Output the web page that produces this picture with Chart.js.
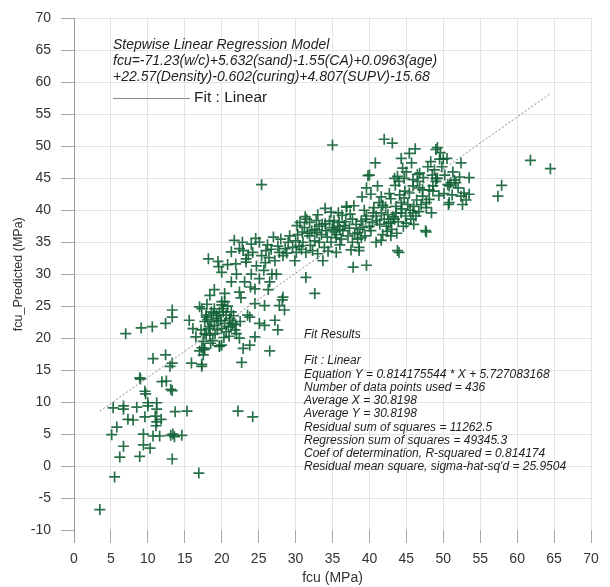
<!DOCTYPE html>
<html>
<head>
<meta charset="utf-8">
<title>fcu predicted vs measured</title>
<script src="https://cdn.jsdelivr.net/npm/chart.js@4.4.1/dist/chart.umd.min.js"></script>
<style>
    html, body { margin: 0; padding: 0; background: #fff; }
    #wrap { width: 610px; height: 587px; }
</style>
</head>
<body>
<div id="wrap"><canvas id="fcuChart" width="610" height="587"></canvas></div>
<script>
// Measured fcu (x) against predicted fcu (y), both in MPa, grouped by strength range
const lowStrength = [
    [3.5,-6.8],[5.5,-1.7],[16.9,-1.1],[6.2,1.4],[8.9,1.5],[13.3,1.1],[6.7,3.1],[9.4,3.3],[10.3,2.8],
    [5.1,4.9],[5.8,6.1],[9.4,5.0],[10.7,4.7],[11.6,4.7],[13.1,4.8],[13.4,5.0],[13.6,4.6],[14.6,4.8],
    [7.3,7.3],[8.0,7.2],[9.6,7.7],[11.0,7.8],[11.2,6.9],[11.1,6.3],[11.8,7.3],[5.3,9.1],[6.7,9.4],
    [6.7,8.9],[8.5,9.2],[10.0,9.9],[10.0,9.4],[11.2,9.9],[11.2,8.9],[13.7,8.5],[15.3,8.6],[9.6,11.7],
    [9.7,11.3],[13.1,12.0],[13.3,11.8],[8.9,13.8],[9.0,13.6],[11.9,13.2],[12.5,13.3],[13.0,15.6],
    [13.3,16.1],[10.7,16.8],[12.4,17.4],[15.9,16.1],[7.0,20.7],[9.1,21.6],[10.6,21.8],[12.4,22.3],
    [13.3,23.3],[13.3,24.4],[15.6,22.8],[16.1,21.5]
];
const lowerMid = [
    [17.0,18.0],[17.3,18.5],[17.6,18.2],[17.3,15.6],[17.3,15.9],[19.7,18.7],[20.0,18.9],[19.7,18.8],
    [17.7,18.4],[17.5,19.5],[17.7,20.7],[18.4,20.5],[17.9,20.5],[19.1,20.7],[20.0,21.5],[18.2,21.5],
    [18.4,21.8],[20.9,21.8],[21.3,21.8],[21.8,21.3],[22.0,20.7],[17.7,22.6],[18.6,22.6],[19.5,22.8],
    [19.3,23.1],[20.4,22.3],[21.1,22.8],[21.5,22.3],[21.1,23.1],[17.9,23.3],[17.9,23.6],[19.3,23.6],
    [20.6,23.6],[18.6,24.1],[19.7,24.1],[20.2,24.1],[21.3,24.1],[17.3,24.6],[20.2,24.6],[17.0,24.9],
    [20.0,25.2],[20.0,25.7],[20.4,25.7],[22.4,20.0],[22.7,16.2],[22.9,18.4],[23.8,18.9],[16.5,20.2],
    [18.8,19.6],[21.0,20.3],[19.0,22.0],[22.5,22.6],[20.8,25.0],[18.0,25.3],[18.1,22.9],[18.9,23.9],
    [19.4,21.3],[19.9,22.7],[20.6,21.0],[21.6,23.5],[18.5,19.2],[17.2,21.3],[19.0,24.6],[21.9,22.1],
    [17.5,17.4],[20.3,20.1]
];
const upperMid = [
    [18.2,32.4],[19.5,32.0],[19.6,31.2],[20.0,30.3],[21.3,33.5],[22.4,34.0],[24.0,34.7],[21.9,31.6],
    [23.3,32.4],[23.3,31.9],[22.0,30.0],[23.1,28.8],[21.3,28.8],[20.4,27.0],[18.4,26.7],[22.4,27.2],
    [22.6,26.3],[24.5,27.7],[25.1,29.3],[26.5,28.8],[26.8,30.0],[27.4,30.0],[26.0,33.7],[26.7,33.9],
    [27.6,34.4],[27.8,33.4],[29.0,35.0],[29.2,36.0],[28.3,32.9],[27.2,32.1],[25.4,32.9],[24.7,31.3],
    [25.1,35.0],[24.2,33.4],[30.1,33.4],[29.9,32.1],[30.5,34.4],[25.4,44.0],[21.7,35.3],[22.8,35.0],
    [23.6,33.0],[26.2,34.6],[28.6,34.0],[28.0,35.5],[29.6,34.2],[27.0,35.8],[25.7,30.6],[24.0,30.0],
    [20.8,31.5],[22.9,33.7],[24.6,35.6],[25.9,31.8],[28.8,33.3],[26.4,32.6],[23.9,28.0],[19.0,27.6]
];
const underPredicted = [
    [28.3,26.4],[28.5,24.4],[25.8,25.1],[24.5,25.4],[23.8,23.3],[23.5,23.6],[25.1,22.3],[25.8,22.0],
    [27.2,22.8],[27.6,21.3],[24.5,20.2],[26.5,18.0],[27.8,25.1],[31.4,29.5],[32.6,27.0],[22.2,8.6],
    [24.2,7.7],[28.2,26.0],[26.3,27.6]
];
const band30to40 = [
    [30.6,38.1],[31.2,37.3],[31.9,38.1],[32.6,37.0],[33.2,37.5],[34.1,36.8],[35.0,37.3],[35.9,38.1],
    [37.1,36.0],[31.9,36.0],[32.6,35.2],[33.2,35.0],[33.9,34.2],[34.8,35.0],[35.5,35.7],[30.8,33.9],
    [31.4,33.4],[32.3,33.7],[33.7,32.1],[34.8,39.7],[36.9,40.6],[36.9,40.5],[35.0,37.0],[35.7,37.5],
    [35.5,36.2],[36.4,36.8],[37.7,38.6],[38.2,37.8],[38.9,38.3],[39.1,37.3],[38.4,36.5],[38.9,35.7],
    [38.4,35.5],[38.6,34.2],[38.6,33.7],[37.7,35.0],[35.5,33.4],[36.2,35.5],[37.8,31.1],[39.6,31.4],
    [39.6,39.1],[30.3,36.2],[31.0,35.0],[31.5,38.6],[32.0,34.5],[32.8,38.4],[33.5,36.2],[34.0,37.9],
    [34.4,33.6],[35.2,38.4],[36.0,34.6],[36.6,37.6],[37.3,37.2],[37.5,33.8],[33.0,39.3],[31.3,39.0],
    [36.3,39.2],[30.2,37.6],[30.9,36.6],[31.6,36.4],[32.2,36.8],[32.9,36.5],[33.6,37.8],[34.3,35.8],
    [34.6,38.3],[35.3,36.6],[36.0,37.0],[36.8,38.2],[37.4,39.4],[38.0,36.3],[38.7,37.0],[39.4,36.0],
    [30.0,35.2],[33.0,33.2],[34.0,40.3],[35.8,39.6],[37.9,40.7]
];
const band40to48 = [
    [39.8,45.4],[39.6,43.5],[39.0,42.1],[40.2,42.5],[41.6,42.1],[42.9,41.8],[40.2,36.8],[40.9,39.1],
    [41.6,39.6],[42.0,38.6],[42.5,39.3],[42.9,38.1],[43.6,39.6],[43.4,38.6],[41.4,37.8],[42.3,37.5],
    [40.4,38.1],[41.6,35.3],[40.9,35.0],[42.9,36.0],[43.8,33.7],[44.0,33.4],[41.8,36.2],[43.8,45.3],
    [44.7,45.0],[46.5,45.6],[46.5,44.5],[45.9,43.8],[46.8,43.5],[45.4,42.7],[44.7,41.9],[44.3,41.2],
    [45.2,40.9],[43.6,40.6],[45.9,39.6],[45.6,38.6],[46.3,39.1],[47.7,41.2],[47.7,40.4],[47.7,36.6],
    [47.2,42.2],[44.9,39.1],[44.3,39.6],[45.9,44.8],[42.0,51.1],[43.1,50.5],[35.0,50.2],[40.8,47.4],
    [44.3,48.1],[44.5,46.6],[45.7,47.4],[40.0,45.5],[41.1,43.8],[43.4,45.0],[46.8,45.8],[47.2,43.2],
    [47.0,40.9],[47.6,36.8],[44.6,37.5],[46.0,37.8],[43.0,37.0],[40.6,40.4],[39.3,40.0],[42.2,40.5],
    [44.8,43.0],[46.4,41.6],[40.5,39.6],[41.0,38.4],[41.8,40.8],[42.6,38.0],[43.2,39.0],[43.9,38.2],
    [44.4,40.2],[45.0,38.0],[45.5,40.0],[46.0,40.6],[46.7,39.8],[41.3,41.2],[42.7,42.6],[43.5,43.9],
    [44.0,44.5],[45.0,46.0],[45.4,48.9],[46.2,49.6],[47.3,45.1],[47.9,46.8],[42.4,36.7],[43.7,36.4],
    [40.0,37.5],[39.5,38.6],[44.1,42.4]
];
const highStrength = [
    [48.1,43.2],[48.6,43.8],[49.0,45.0],[50.8,43.8],[51.7,44.3],[50.7,40.9],[49.2,49.8],[49.0,49.5],
    [49.5,48.0],[50.0,48.0],[50.5,48.1],[52.4,47.4],[53.5,45.1],[52.2,45.2],[51.5,44.7],[51.0,44.3],
    [50.6,44.0],[49.2,45.0],[49.0,44.5],[52.8,42.7],[52.4,42.2],[53.5,42.5],[53.1,41.6],[52.6,40.9],
    [50.8,41.2],[48.1,41.7],[48.6,43.0],[48.8,46.3],[49.8,46.8],[51.2,42.4],[48.4,39.6],[48.3,47.6],
    [49.6,49.0],[48.5,45.5],[49.4,42.3],[50.2,45.5],[51.3,46.0],[52.0,43.5],[50.1,42.6],
    [57.9,43.9],[57.4,42.2],[61.8,47.8],[64.5,46.5]
];

const xTickValues = [0, 5, 10, 15, 20, 25, 30, 35, 40, 45, 50, 55, 60, 65, 70];
const yTickValues = [-10, -5, 0, 5, 10, 15, 20, 25, 30, 35, 40, 45, 50, 55, 60, 65, 70];

// linear fit reported in the results box
const fitSlope = 0.814175544;
const fitIntercept = 5.727083168;

const modelLines = [
    'Stepwise Linear Regression Model',
    'fcu=-71.23(w/c)+5.632(sand)-1.55(CA)+0.0963(age)',
    '+22.57(Density)-0.602(curing)+4.807(SUPV)-15.68'
];
const fitResultLines = [
    'Fit Results',
    '',
    'Fit : Linear',
    'Equation Y = 0.814175544 * X + 5.727083168',
    'Number of data points used = 436',
    'Average X = 30.8198',
    'Average Y = 30.8198',
    'Residual sum of squares = 11262.5',
    'Regression sum of squares = 49345.3',
    'Coef of determination, R-squared = 0.814174',
    "Residual mean square, sigma-hat-sq'd = 25.9504"
];

const FONT = '"Liberation Sans", Arial, sans-serif';
const points = [].concat(lowStrength, lowerMid, upperMid, underPredicted, band30to40, band40to48, highStrength)
    .map(p => ({ x: p[0], y: p[1] }));

const xs = points.map(p => p.x);
const fitStart = Math.min.apply(null, xs);
const fitEnd = Math.max.apply(null, xs);
const fitLine = [
    { x: fitStart, y: fitSlope * fitStart + fitIntercept },
    { x: fitEnd, y: fitSlope * fitEnd + fitIntercept }
];

// text blocks, legend sample and the axis stub below the plot
const annotations = {
    id: 'annotations',
    afterDraw(chart) {
        const ctx = chart.ctx;
        const area = chart.chartArea;
        ctx.save();

        ctx.strokeStyle = '#9a9a9a';
        ctx.lineWidth = 1;
        ctx.beginPath();
        ctx.moveTo(area.left + 0.5, area.bottom);
        ctx.lineTo(area.left + 0.5, area.bottom + 13);
        ctx.stroke();

        ctx.fillStyle = '#1e1e1e';
        ctx.textBaseline = 'middle';
        ctx.textAlign = 'left';
        ctx.font = 'italic 14px ' + FONT;
        modelLines.forEach((line, i) => ctx.fillText(line, 113, 45 + i * 16));

        ctx.strokeStyle = '#8c8c8c';
        ctx.beginPath();
        ctx.moveTo(113, 98.5);
        ctx.lineTo(190, 98.5);
        ctx.stroke();
        ctx.font = '15.5px ' + FONT;
        ctx.fillText('Fit : Linear', 194, 98);

        ctx.font = 'italic 12px ' + FONT;
        fitResultLines.forEach((line, i) => ctx.fillText(line, 304, 334.5 + i * 13.25));

        ctx.restore();
    }
};

function gridColour(context) {
    return context.tick && context.tick.value === -10 ? 'rgba(0,0,0,0)' : '#e4e4e4';
}

new Chart(document.getElementById('fcuChart'), {
    type: 'scatter',
    data: {
        datasets: [{
            type: 'line',
            data: fitLine,
            borderColor: '#8a8a8a',
            borderWidth: 1,
            borderDash: [2, 2],
            pointRadius: 0,
            fill: false
        }, {
            data: points,
            pointStyle: 'cross',
            pointRadius: 5.5,
            pointBorderWidth: 1.7,
            pointBorderColor: 'rgba(18, 98, 54, 0.9)',
            pointBackgroundColor: 'rgba(18, 98, 54, 0.9)',
            pointHoverRadius: 5.5
        }]
    },
    options: {
        responsive: false,
        animation: false,
        devicePixelRatio: 1,
        events: [],
        layout: { padding: { top: 14, right: 19, left: 0, bottom: 0 } },
        plugins: {
            legend: { display: false },
            tooltip: { enabled: false }
        },
        scales: {
            x: {
                type: 'linear',
                min: 0,
                max: 70,
                afterBuildTicks: s => { s.ticks = xTickValues.map(v => ({ value: v })); },
                afterFit: s => { s.height = 57; },
                ticks: { font: { family: FONT, size: 14 }, color: '#333', padding: 8, maxRotation: 0 },
                grid: { color: gridColour, tickColor: '#a8a8a8', tickLength: 13 },
                border: { display: false },
                title: { display: true, text: 'fcu (MPa)', font: { family: FONT, size: 14 }, color: '#333', padding: 0 }
            },
            y: {
                type: 'linear',
                min: -10,
                max: 70,
                afterBuildTicks: s => { s.ticks = yTickValues.map(v => ({ value: v })); },
                afterFit: s => { s.width = 74; },
                ticks: { font: { family: FONT, size: 14 }, color: '#333', padding: 10 },
                grid: { color: gridColour, tickColor: '#a8a8a8', tickLength: 13 },
                border: { display: true, color: '#9a9a9a' },
                title: { display: true, text: 'fcu_Predicted (MPa)', font: { family: FONT, size: 12.5 }, color: '#333', padding: { top: 11, bottom: 0 } }
            }
        }
    },
    plugins: [annotations]
});
</script>
</body>
</html>
